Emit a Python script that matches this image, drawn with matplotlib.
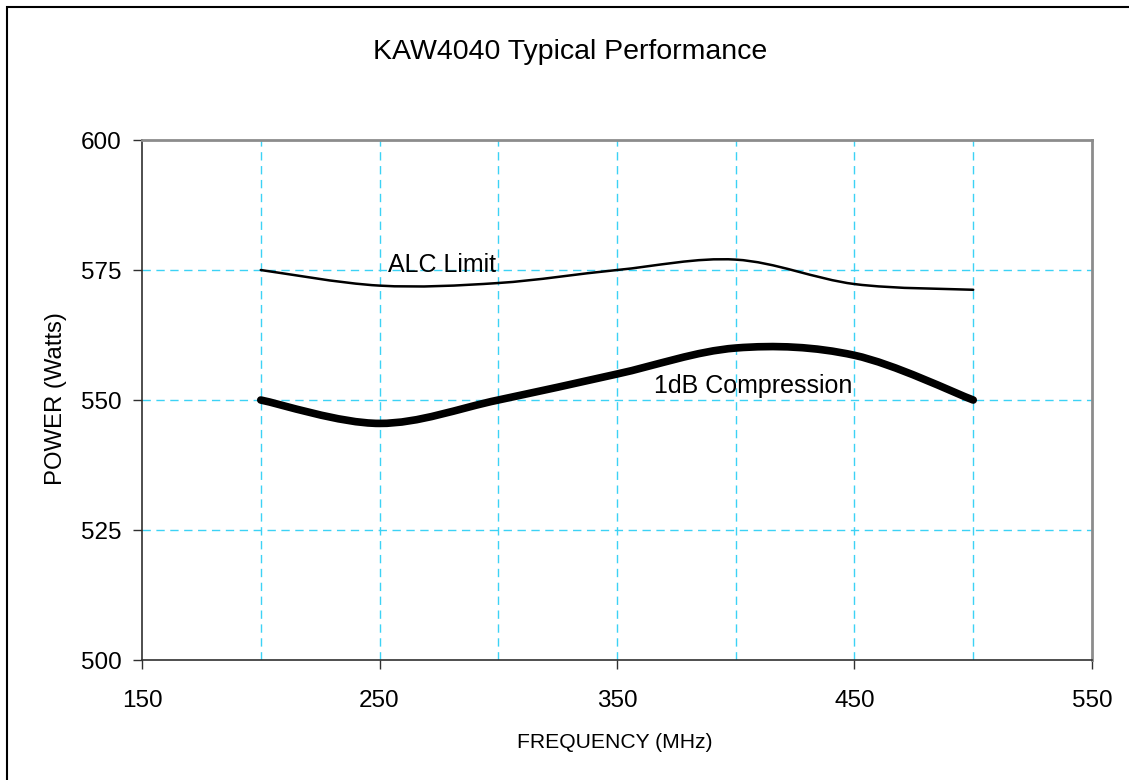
import matplotlib
matplotlib.use('Agg')
import matplotlib.pyplot as plt
import numpy as np
from matplotlib.path import Path
from matplotlib.patches import PathPatch, Rectangle

# values
freq = [200, 250, 300, 350, 400, 450, 500]
alc_limit = [575.0, 572.0, 572.5, 575.0, 577.0, 572.3, 571.2]
compression = [550.0, 545.5, 550.0, 555.0, 560.0, 558.6, 550.0]

x_ticks = [150, 250, 350, 450, 550]
y_ticks = [500, 525, 550, 575, 600]
x_grid = [200, 250, 300, 350, 400, 450, 500]
y_grid = [525, 550, 575]

GRID_COLOR = '#3cd2f5'
TEXT_FONT = ['Liberation Sans', 'DejaVu Sans']
TITLE_FONT = ['Liberation Sans', 'DejaVu Sans']


def smooth_path(xs, ys):
    # Excel-style smoothed line: cubic bezier through every point
    xs = np.asarray(xs, float)
    ys = np.asarray(ys, float)
    n = len(xs)
    verts = [(xs[0], ys[0])]
    codes = [Path.MOVETO]
    for i in range(n - 1):
        p0 = max(i - 1, 0)
        p3 = min(i + 2, n - 1)
        c1 = (xs[i] + (xs[i + 1] - xs[p0]) / 6, ys[i] + (ys[i + 1] - ys[p0]) / 6)
        c2 = (xs[i + 1] - (xs[p3] - xs[i]) / 6, ys[i + 1] - (ys[p3] - ys[i]) / 6)
        verts += [c1, c2, (xs[i + 1], ys[i + 1])]
        codes += [Path.CURVE4] * 3
    return Path(verts, codes)


fig = plt.figure(figsize=(11.29, 7.8), dpi=100)
ax = fig.add_axes([0.1258, 0.1538, 0.8414, 0.6667])

ax.set_xlim(150, 550)
ax.set_ylim(500, 600)

for gx in x_grid:
    ax.axvline(gx, color=GRID_COLOR, lw=1.0, ls=(0, (6, 4)), zorder=1)
for gy in y_grid:
    ax.axhline(gy, color=GRID_COLOR, lw=1.0, ls=(0, (6, 4)), zorder=1)

ax.add_patch(PathPatch(smooth_path(freq, alc_limit), fill=False,
                       edgecolor='black', lw=1.8, capstyle='round', zorder=3))
ax.add_patch(PathPatch(smooth_path(freq, compression), fill=False,
                       edgecolor='black', lw=5.5, capstyle='round', zorder=3))

ax.text(253.6, 574.6, 'ALC Limit', fontsize=18, family=TEXT_FONT,
        va='baseline', ha='left')
ax.text(365.6, 551.4, '1dB Compression', fontsize=18, family=TEXT_FONT,
        va='baseline', ha='left')

ax.set_xticks(x_ticks)
ax.set_yticks(y_ticks)
ax.tick_params(direction='out', length=6.5, width=1, colors='#303030',
               labelcolor='black', labelsize=17.5)
ax.tick_params(axis='x', pad=15)
ax.tick_params(axis='y', pad=8)
for lbl in ax.get_xticklabels() + ax.get_yticklabels():
    lbl.set_family(TEXT_FONT)

for side in ['left', 'bottom']:
    ax.spines[side].set_color('#303030')
    ax.spines[side].set_linewidth(1.2)
for side in ['top', 'right']:
    ax.spines[side].set_color('#8c8c8c')
    ax.spines[side].set_linewidth(2.0)

ax.set_xlabel('FREQUENCY (MHz)', fontsize=15.2, family=TITLE_FONT, va='center')
ax.xaxis.set_label_coords(0.498, -0.158)
ax.set_ylabel('POWER (Watts)', fontsize=17.2, family=TITLE_FONT, va='center')
ax.yaxis.set_label_coords(-0.0905, 0.502)
fig.text(0.505, 0.933, 'KAW4040 Typical Performance', fontsize=20.5,
         family=TITLE_FONT, ha='center', va='center')

# outer chart frame (cropped on right and bottom)
fig.patches.append(Rectangle((7 / 1129, -0.1), 1.2, 1 - 7 / 780 + 0.1,
                             transform=fig.transFigure, fill=False,
                             edgecolor='black', lw=1.5))

fig.savefig('out.png', dpi=100)
